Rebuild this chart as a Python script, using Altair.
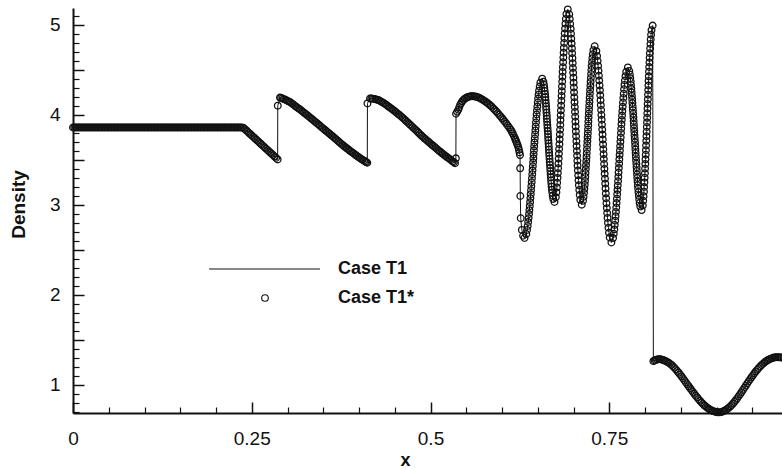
import altair as alt
import pandas as pd

# ---- density profile, (x, density) pairs from left to right ----
left_state = [
    (0.000, 3.857), (0.002, 3.857), (0.004, 3.857), (0.006, 3.857), (0.008, 3.857), (0.010, 3.857),
    (0.012, 3.857), (0.014, 3.857), (0.016, 3.857), (0.018, 3.857), (0.020, 3.857), (0.022, 3.857),
    (0.024, 3.857), (0.026, 3.857), (0.028, 3.857), (0.030, 3.857), (0.032, 3.857), (0.034, 3.857),
    (0.036, 3.857), (0.038, 3.857), (0.040, 3.857), (0.042, 3.857), (0.044, 3.857), (0.046, 3.857),
    (0.048, 3.857), (0.050, 3.857), (0.052, 3.857), (0.054, 3.857), (0.056, 3.857), (0.058, 3.857),
    (0.060, 3.857), (0.062, 3.857), (0.064, 3.857), (0.066, 3.857), (0.068, 3.857), (0.070, 3.857),
    (0.072, 3.857), (0.074, 3.857), (0.076, 3.857), (0.078, 3.857), (0.080, 3.857), (0.082, 3.857),
    (0.084, 3.857), (0.086, 3.857), (0.088, 3.857), (0.090, 3.857), (0.092, 3.857), (0.094, 3.857),
    (0.096, 3.857), (0.098, 3.857), (0.100, 3.857), (0.102, 3.857), (0.104, 3.857), (0.106, 3.857),
    (0.108, 3.857), (0.110, 3.857), (0.112, 3.857), (0.114, 3.857), (0.116, 3.857), (0.118, 3.857),
    (0.120, 3.857), (0.122, 3.857), (0.124, 3.857), (0.126, 3.857), (0.128, 3.857), (0.130, 3.857),
    (0.132, 3.857), (0.134, 3.857), (0.136, 3.857), (0.138, 3.857), (0.140, 3.857), (0.142, 3.857),
    (0.144, 3.857), (0.146, 3.857), (0.148, 3.857), (0.150, 3.857), (0.152, 3.857), (0.154, 3.857),
    (0.156, 3.857), (0.158, 3.857), (0.160, 3.857), (0.162, 3.857), (0.164, 3.857), (0.166, 3.857),
    (0.168, 3.857), (0.170, 3.857), (0.172, 3.857), (0.174, 3.857), (0.176, 3.857), (0.178, 3.857),
    (0.180, 3.857), (0.182, 3.857), (0.184, 3.857), (0.186, 3.857), (0.188, 3.857), (0.190, 3.857),
    (0.192, 3.857), (0.194, 3.857), (0.196, 3.857), (0.198, 3.857), (0.200, 3.857), (0.202, 3.857),
    (0.204, 3.857), (0.206, 3.857), (0.208, 3.857), (0.210, 3.857), (0.212, 3.857), (0.214, 3.857),
    (0.216, 3.857), (0.218, 3.857), (0.220, 3.857), (0.222, 3.857), (0.224, 3.857), (0.226, 3.857),
    (0.228, 3.857), (0.230, 3.857), (0.232, 3.857), (0.234, 3.857), (0.236, 3.857),
    (0.238, 3.856), (0.240, 3.842), (0.242, 3.828), (0.244, 3.813), (0.246, 3.798), (0.248, 3.784),
    (0.250, 3.769), (0.252, 3.754), (0.254, 3.740), (0.256, 3.725), (0.258, 3.710), (0.260, 3.696),
    (0.262, 3.681), (0.264, 3.666), (0.266, 3.652), (0.268, 3.637), (0.270, 3.622), (0.272, 3.608),
    (0.274, 3.593), (0.276, 3.578), (0.278, 3.564), (0.280, 3.549), (0.282, 3.534), (0.284, 3.520),
    (0.2862, 3.503),
]

first_tooth = [
    (0.2864, 4.100), (0.2895, 4.190), (0.291, 4.186), (0.293, 4.180), (0.295, 4.173), (0.297, 4.166),
    (0.299, 4.158), (0.301, 4.150), (0.303, 4.142), (0.305, 4.133), (0.307, 4.120), (0.309, 4.107),
    (0.311, 4.095), (0.313, 4.083), (0.315, 4.072), (0.317, 4.061), (0.319, 4.049), (0.321, 4.036),
    (0.323, 4.023), (0.325, 4.010), (0.327, 3.998), (0.329, 3.985), (0.331, 3.972), (0.333, 3.959),
    (0.335, 3.946), (0.337, 3.933), (0.339, 3.920), (0.341, 3.906), (0.343, 3.893), (0.345, 3.879),
    (0.347, 3.866), (0.349, 3.852), (0.351, 3.839), (0.353, 3.826), (0.355, 3.813), (0.357, 3.800),
    (0.359, 3.787), (0.361, 3.773), (0.363, 3.760), (0.365, 3.746), (0.367, 3.732), (0.369, 3.718),
    (0.371, 3.705), (0.373, 3.691), (0.375, 3.677), (0.377, 3.663), (0.379, 3.651), (0.381, 3.638),
    (0.383, 3.626), (0.385, 3.613), (0.387, 3.601), (0.389, 3.589), (0.391, 3.578), (0.393, 3.566),
    (0.395, 3.554), (0.397, 3.542), (0.399, 3.531), (0.401, 3.520), (0.403, 3.509), (0.405, 3.498),
    (0.407, 3.489), (0.409, 3.479), (0.4103, 3.472), (0.4116, 3.466),
]

second_tooth = [
    (0.4118, 4.125), (0.4154, 4.180), (0.4172, 4.179), (0.419, 4.178), (0.421, 4.175), (0.423, 4.172),
    (0.425, 4.167), (0.427, 4.162), (0.429, 4.154), (0.431, 4.145), (0.433, 4.136), (0.435, 4.127),
    (0.437, 4.116), (0.439, 4.104), (0.441, 4.092), (0.443, 4.080), (0.445, 4.069), (0.447, 4.057),
    (0.449, 4.045), (0.451, 4.032), (0.453, 4.019), (0.455, 4.006), (0.457, 3.993), (0.459, 3.979),
    (0.461, 3.966), (0.463, 3.952), (0.465, 3.937), (0.467, 3.922), (0.469, 3.907), (0.471, 3.892),
    (0.473, 3.877), (0.475, 3.862), (0.477, 3.847), (0.479, 3.832), (0.481, 3.817), (0.483, 3.801),
    (0.485, 3.786), (0.487, 3.770), (0.489, 3.755), (0.491, 3.740), (0.493, 3.727), (0.495, 3.713),
    (0.497, 3.700), (0.499, 3.686), (0.501, 3.673), (0.503, 3.659), (0.505, 3.646), (0.507, 3.632),
    (0.509, 3.619), (0.511, 3.605), (0.513, 3.592), (0.515, 3.579), (0.517, 3.566), (0.519, 3.553),
    (0.521, 3.541), (0.523, 3.529), (0.525, 3.518), (0.527, 3.506), (0.529, 3.494), (0.531, 3.481),
    (0.5327, 3.471), (0.5343, 3.460),
]

third_arc = [
    (0.5355, 3.515), (0.5357, 4.010), (0.5373, 4.033), (0.5389, 4.055), (0.5402, 4.083),
    (0.5415, 4.110), (0.5430, 4.130), (0.5445, 4.150), (0.5462, 4.164), (0.548, 4.178),
    (0.550, 4.187), (0.552, 4.196), (0.554, 4.200), (0.556, 4.204), (0.558, 4.205),
    (0.560, 4.205), (0.562, 4.202), (0.564, 4.199), (0.566, 4.194), (0.568, 4.188),
    (0.570, 4.179), (0.572, 4.170), (0.574, 4.160), (0.576, 4.150), (0.578, 4.139),
    (0.580, 4.127), (0.582, 4.114), (0.584, 4.100), (0.586, 4.085), (0.588, 4.069),
    (0.590, 4.053), (0.592, 4.036), (0.594, 4.018), (0.596, 3.999), (0.598, 3.981),
    (0.600, 3.962), (0.602, 3.942), (0.604, 3.922), (0.606, 3.901), (0.608, 3.880),
    (0.610, 3.858), (0.612, 3.836), (0.6135, 3.814), (0.615, 3.792), (0.6165, 3.766),
    (0.618, 3.740), (0.619, 3.720), (0.620, 3.700), (0.621, 3.680), (0.622, 3.660),
    (0.6229, 3.635), (0.6237, 3.610), (0.6245, 3.581), (0.6252, 3.551),
    (0.6254, 3.404), (0.6256, 3.097), (0.6262, 2.849), (0.6278, 2.720), (0.6295, 2.655),
    (0.6315, 2.630),
]

entropy_waves = [
    # trough 2.63 -> crest 4.40
    (0.6340, 2.674), (0.6350, 2.719), (0.6359, 2.763), (0.6366, 2.807), (0.6372, 2.851),
    (0.6378, 2.896), (0.6383, 2.940), (0.6388, 2.984), (0.6393, 3.028), (0.6397, 3.073),
    (0.6402, 3.117), (0.6406, 3.161), (0.6410, 3.205), (0.6415, 3.250), (0.6419, 3.294),
    (0.6423, 3.338), (0.6427, 3.382), (0.6431, 3.427), (0.6435, 3.471), (0.6439, 3.515),
    (0.6442, 3.559), (0.6446, 3.604), (0.6450, 3.648), (0.6454, 3.692), (0.6458, 3.736),
    (0.6463, 3.781), (0.6467, 3.825), (0.6471, 3.869), (0.6475, 3.913), (0.6480, 3.958),
    (0.6484, 4.002), (0.6489, 4.046), (0.6494, 4.090), (0.6500, 4.135), (0.6505, 4.179),
    (0.6511, 4.223), (0.6518, 4.267), (0.6527, 4.312), (0.6537, 4.356), (0.6562, 4.400),
    # crest 4.40 -> trough 3.03
    (0.6579, 4.366), (0.6587, 4.332), (0.6592, 4.297), (0.6597, 4.263), (0.6602, 4.229),
    (0.6606, 4.195), (0.6609, 4.160), (0.6613, 4.126), (0.6616, 4.092), (0.6619, 4.058),
    (0.6622, 4.023), (0.6626, 3.989), (0.6628, 3.955), (0.6631, 3.921), (0.6634, 3.886),
    (0.6637, 3.852), (0.6640, 3.818), (0.6643, 3.784), (0.6645, 3.749), (0.6648, 3.715),
    (0.6651, 3.681), (0.6654, 3.647), (0.6656, 3.612), (0.6659, 3.578), (0.6662, 3.544),
    (0.6665, 3.510), (0.6668, 3.475), (0.6671, 3.441), (0.6674, 3.407), (0.6677, 3.373),
    (0.6680, 3.338), (0.6683, 3.304), (0.6687, 3.270), (0.6690, 3.236), (0.6694, 3.201),
    (0.6699, 3.167), (0.6704, 3.133), (0.6709, 3.099), (0.6717, 3.064), (0.6734, 3.030),
    # trough 3.03 -> crest 5.17
    (0.6753, 3.084), (0.6761, 3.137), (0.6767, 3.191), (0.6772, 3.244), (0.6777, 3.298),
    (0.6781, 3.351), (0.6785, 3.405), (0.6789, 3.458), (0.6793, 3.512), (0.6796, 3.565),
    (0.6799, 3.619), (0.6803, 3.672), (0.6806, 3.726), (0.6809, 3.779), (0.6812, 3.833),
    (0.6815, 3.886), (0.6818, 3.940), (0.6821, 3.993), (0.6824, 4.047), (0.6827, 4.100),
    (0.6830, 4.154), (0.6833, 4.207), (0.6836, 4.261), (0.6839, 4.314), (0.6842, 4.368),
    (0.6845, 4.421), (0.6848, 4.475), (0.6851, 4.528), (0.6855, 4.582), (0.6858, 4.635),
    (0.6862, 4.689), (0.6865, 4.742), (0.6869, 4.796), (0.6873, 4.849), (0.6877, 4.903),
    (0.6882, 4.956), (0.6887, 5.010), (0.6893, 5.063), (0.6901, 5.117), (0.6920, 5.170),
    # crest 5.17 -> trough 3.00
    (0.6940, 5.116), (0.6948, 5.062), (0.6954, 5.007), (0.6960, 4.953), (0.6965, 4.899),
    (0.6969, 4.845), (0.6974, 4.790), (0.6978, 4.736), (0.6981, 4.682), (0.6985, 4.628),
    (0.6989, 4.573), (0.6992, 4.519), (0.6995, 4.465), (0.6999, 4.411), (0.7002, 4.356),
    (0.7005, 4.302), (0.7008, 4.248), (0.7011, 4.194), (0.7014, 4.139), (0.7018, 4.085),
    (0.7021, 4.031), (0.7024, 3.977), (0.7027, 3.922), (0.7030, 3.868), (0.7033, 3.814),
    (0.7036, 3.760), (0.7040, 3.705), (0.7043, 3.651), (0.7047, 3.597), (0.7050, 3.543),
    (0.7054, 3.488), (0.7057, 3.434), (0.7061, 3.380), (0.7066, 3.326), (0.7070, 3.271),
    (0.7075, 3.217), (0.7081, 3.163), (0.7087, 3.109), (0.7095, 3.054), (0.7115, 3.000),
    # trough 3.00 -> crest 4.76
    (0.7133, 3.044), (0.7141, 3.088), (0.7147, 3.132), (0.7152, 3.176), (0.7157, 3.220),
    (0.7161, 3.264), (0.7165, 3.308), (0.7168, 3.352), (0.7172, 3.396), (0.7175, 3.440),
    (0.7179, 3.484), (0.7182, 3.528), (0.7185, 3.572), (0.7188, 3.616), (0.7191, 3.660),
    (0.7194, 3.704), (0.7197, 3.748), (0.7200, 3.792), (0.7203, 3.836), (0.7206, 3.880),
    (0.7208, 3.924), (0.7211, 3.968), (0.7214, 4.012), (0.7217, 4.056), (0.7220, 4.100),
    (0.7223, 4.144), (0.7226, 4.188), (0.7229, 4.232), (0.7232, 4.276), (0.7236, 4.320),
    (0.7239, 4.364), (0.7243, 4.408), (0.7246, 4.452), (0.7250, 4.496), (0.7254, 4.540),
    (0.7259, 4.584), (0.7264, 4.628), (0.7270, 4.672), (0.7278, 4.716), (0.7296, 4.760),
    # crest 4.76 -> trough 2.58
    (0.7320, 4.706), (0.7330, 4.651), (0.7337, 4.597), (0.7344, 4.542), (0.7350, 4.488),
    (0.7355, 4.433), (0.7360, 4.379), (0.7365, 4.324), (0.7370, 4.270), (0.7374, 4.215),
    (0.7378, 4.161), (0.7382, 4.106), (0.7386, 4.052), (0.7390, 3.997), (0.7394, 3.943),
    (0.7398, 3.888), (0.7402, 3.834), (0.7406, 3.779), (0.7409, 3.725), (0.7413, 3.670),
    (0.7417, 3.616), (0.7421, 3.561), (0.7424, 3.507), (0.7428, 3.452), (0.7432, 3.398),
    (0.7436, 3.343), (0.7440, 3.289), (0.7444, 3.234), (0.7448, 3.180), (0.7452, 3.125),
    (0.7456, 3.071), (0.7461, 3.016), (0.7466, 2.962), (0.7471, 2.907), (0.7476, 2.853),
    (0.7482, 2.798), (0.7489, 2.744), (0.7496, 2.689), (0.7506, 2.635), (0.7530, 2.580),
    # trough 2.58 -> crest 4.525
    (0.7553, 2.629), (0.7563, 2.677), (0.7571, 2.726), (0.7577, 2.775), (0.7583, 2.823),
    (0.7588, 2.872), (0.7593, 2.920), (0.7598, 2.969), (0.7602, 3.018), (0.7607, 3.066),
    (0.7611, 3.115), (0.7615, 3.164), (0.7619, 3.212), (0.7623, 3.261), (0.7627, 3.309),
    (0.7630, 3.358), (0.7634, 3.407), (0.7638, 3.455), (0.7641, 3.504), (0.7645, 3.553),
    (0.7649, 3.601), (0.7652, 3.650), (0.7656, 3.698), (0.7660, 3.747), (0.7664, 3.796),
    (0.7667, 3.844), (0.7671, 3.893), (0.7675, 3.942), (0.7679, 3.990), (0.7683, 4.039),
    (0.7688, 4.087), (0.7692, 4.136), (0.7697, 4.185), (0.7702, 4.233), (0.7707, 4.282),
    (0.7713, 4.331), (0.7719, 4.379), (0.7727, 4.428), (0.7737, 4.476), (0.7760, 4.525),
    # crest 4.525 -> trough 2.94
    (0.7780, 4.485), (0.7788, 4.446), (0.7794, 4.406), (0.7800, 4.367), (0.7804, 4.327),
    (0.7809, 4.287), (0.7813, 4.248), (0.7817, 4.208), (0.7821, 4.168), (0.7824, 4.129),
    (0.7828, 4.089), (0.7831, 4.050), (0.7835, 4.010), (0.7838, 3.970), (0.7841, 3.931),
    (0.7844, 3.891), (0.7847, 3.851), (0.7850, 3.812), (0.7853, 3.772), (0.7857, 3.733),
    (0.7860, 3.693), (0.7863, 3.653), (0.7866, 3.614), (0.7869, 3.574), (0.7872, 3.534),
    (0.7875, 3.495), (0.7879, 3.455), (0.7882, 3.416), (0.7885, 3.376), (0.7889, 3.336),
    (0.7892, 3.297), (0.7896, 3.257), (0.7900, 3.217), (0.7904, 3.178), (0.7909, 3.138),
    (0.7914, 3.099), (0.7919, 3.059), (0.7925, 3.019), (0.7934, 2.980), (0.7953, 2.940),
    # trough 2.94 -> post-shock crest 4.99
    (0.7969, 2.991), (0.7975, 3.043), (0.7980, 3.094), (0.7985, 3.145), (0.7988, 3.196),
    (0.7992, 3.248), (0.7995, 3.299), (0.7999, 3.350), (0.8001, 3.401), (0.8004, 3.453),
    (0.8007, 3.504), (0.8010, 3.555), (0.8013, 3.606), (0.8015, 3.658), (0.8018, 3.709),
    (0.8020, 3.760), (0.8023, 3.811), (0.8025, 3.863), (0.8028, 3.914), (0.8030, 3.965),
    (0.8032, 4.016), (0.8035, 4.068), (0.8037, 4.119), (0.8040, 4.170), (0.8042, 4.221),
    (0.8045, 4.273), (0.8048, 4.324), (0.8050, 4.375), (0.8053, 4.426), (0.8056, 4.478),
    (0.8059, 4.529), (0.8062, 4.580), (0.8065, 4.631), (0.8068, 4.683), (0.8072, 4.734),
    (0.8076, 4.785), (0.8080, 4.836), (0.8085, 4.888), (0.8091, 4.939), (0.8107, 4.990),
]

right_state = [
    (0.8117, 1.262), (0.8133, 1.269), (0.815, 1.276), (0.817, 1.281), (0.819, 1.284), (0.821, 1.283),
    (0.823, 1.281), (0.825, 1.276), (0.827, 1.270), (0.829, 1.262), (0.831, 1.254), (0.833, 1.244),
    (0.835, 1.233), (0.837, 1.220), (0.839, 1.205), (0.841, 1.189), (0.843, 1.172), (0.845, 1.153),
    (0.847, 1.134), (0.849, 1.114), (0.851, 1.093), (0.853, 1.072), (0.855, 1.050), (0.857, 1.028),
    (0.859, 1.006), (0.861, 0.984), (0.863, 0.962), (0.865, 0.941), (0.867, 0.919), (0.869, 0.899),
    (0.871, 0.878), (0.873, 0.859), (0.875, 0.839), (0.877, 0.821), (0.879, 0.803), (0.881, 0.787),
    (0.883, 0.771), (0.885, 0.758), (0.887, 0.745), (0.889, 0.734), (0.891, 0.723), (0.893, 0.715),
    (0.895, 0.707), (0.897, 0.702), (0.899, 0.697), (0.901, 0.694), (0.903, 0.693), (0.905, 0.694),
    (0.907, 0.697), (0.909, 0.703), (0.911, 0.710), (0.913, 0.720), (0.915, 0.730), (0.917, 0.743),
    (0.919, 0.757), (0.921, 0.773), (0.923, 0.790), (0.925, 0.809), (0.927, 0.829), (0.929, 0.850),
    (0.931, 0.872), (0.933, 0.895), (0.935, 0.918), (0.937, 0.942), (0.939, 0.966), (0.941, 0.990),
    (0.943, 1.014), (0.945, 1.038), (0.947, 1.061), (0.949, 1.084), (0.951, 1.106), (0.953, 1.127),
    (0.955, 1.148), (0.957, 1.167), (0.959, 1.186), (0.961, 1.203), (0.963, 1.219), (0.965, 1.233),
    (0.967, 1.247), (0.969, 1.259), (0.971, 1.270), (0.973, 1.279), (0.975, 1.287), (0.977, 1.293),
    (0.979, 1.299), (0.981, 1.302), (0.983, 1.305), (0.985, 1.306), (0.987, 1.306), (0.989, 1.304),
    (0.991, 1.302), (0.994, 1.298),
]

series_names = ["Case T1", "Case T1*"]

# axis ticks and labels
x_major = [0, 0.25, 0.5, 0.75]
x_minor = [0.05, 0.1, 0.15, 0.2, 0.3, 0.35, 0.4, 0.45, 0.55, 0.6, 0.65, 0.7,
           0.8, 0.85, 0.9, 0.95]
y_major = [1, 1.5, 2, 2.5, 3, 3.5, 4, 4.5, 5]
y_minor = [0.7, 0.8, 0.9, 1.1, 1.2, 1.3, 1.4, 1.6, 1.7, 1.8, 1.9, 2.1, 2.2, 2.3,
           2.4, 2.6, 2.7, 2.8, 2.9, 3.1, 3.2, 3.3, 3.4, 3.6, 3.7, 3.8, 3.9, 4.1,
           4.2, 4.3, 4.4, 4.6, 4.7, 4.8, 4.9, 5.1]

rows = left_state + first_tooth + second_tooth + third_arc + entropy_waves + right_state
df = pd.DataFrame(rows, columns=["x", "density"])
df["idx"] = range(len(df))

FONT = "Liberation Sans"
INK = "#111111"
W, H = 709, 405
CIRCLE = 44

xs = alt.Scale(domain=[0, 0.9916], nice=False, zero=False)
ys = alt.Scale(domain=[0.686, 5.185], nice=False, zero=False)

x_axis_main = alt.Axis(
    orient="bottom", values=x_major, tickSize={"expr": "-11"}, tickWidth=1.5,
    tickColor=INK, domain=True, domainColor=INK, domainWidth=2, grid=False,
    labelExpr="'' + datum.value", labelFont=FONT, labelFontSize=19,
    labelColor=INK, labelPadding=27, labelFlush=False, title="x",
    titleFont=FONT, titleFontSize=18, titleFontWeight="bold", titleColor=INK,
    titleX=332, titleY=47, titleBaseline="middle", titleAlign="center",
)
x_axis_minor = alt.Axis(
    orient="bottom", values=x_minor, tickSize={"expr": "-6"}, tickWidth=1.2,
    tickColor=INK, domain=False, grid=False, labels=False, title=None,
)
y_axis_main = alt.Axis(
    orient="left", values=y_major, tickSize={"expr": "-11"}, tickWidth=1.5,
    tickColor=INK, domain=True, domainColor=INK, domainWidth=2, grid=False,
    labelExpr="datum.value % 1 === 0 ? '' + datum.value : ''", labelFont=FONT,
    labelFontSize=19, labelColor=INK, labelPadding=24, labelFlush=False,
    title="Density", titleFont=FONT, titleFontSize=19, titleFontWeight="bold",
    titleColor=INK, titleX=-55, titleY=196, titleAlign="center",
    titleBaseline="middle", titleAngle=270,
)
y_axis_minor = alt.Axis(
    orient="left", values=y_minor, tickSize={"expr": "-6"}, tickWidth=1.2,
    tickColor=INK, domain=False, grid=False, labels=False, title=None,
)

base = alt.Chart(df)

line = base.mark_line(color=INK, strokeWidth=1).encode(
    x=alt.X("x:Q", scale=xs, axis=x_axis_main),
    y=alt.Y("density:Q", scale=ys, axis=y_axis_main),
    order="idx:Q",
)

circles = base.mark_point(
    shape="circle", filled=False, size=CIRCLE, strokeWidth=1.3, color=INK, opacity=1
).encode(
    x=alt.X("x:Q", scale=xs, axis=x_axis_minor),
    y=alt.Y("density:Q", scale=ys, axis=y_axis_minor),
)

# in-plot legend
leg_line = alt.Chart(pd.DataFrame({"s": [series_names[0]]})).mark_rule(
    color=INK, strokeWidth=1
).encode(x=alt.value(136), x2=alt.value(247), y=alt.value(261))
leg_circle = alt.Chart(pd.DataFrame({"s": [series_names[1]]})).mark_point(
    shape="circle", filled=False, size=CIRCLE, strokeWidth=1.1, color=INK, opacity=1
).encode(x=alt.value(192), y=alt.value(290))
leg_text1 = alt.Chart(pd.DataFrame({"s": [series_names[0]]})).mark_text(
    font=FONT, fontSize=18, fontWeight="bold", color=INK, align="left",
    baseline="middle",
).encode(x=alt.value(265), y=alt.value(261), text="s:N")
leg_text2 = alt.Chart(pd.DataFrame({"s": [series_names[1]]})).mark_text(
    font=FONT, fontSize=18, fontWeight="bold", color=INK, align="left",
    baseline="middle",
).encode(x=alt.value(265), y=alt.value(290), text="s:N")

chart = (
    alt.layer(line, circles, leg_line, leg_circle, leg_text1, leg_text2)
    .resolve_axis(x="independent", y="independent")
    .properties(
        width=W, height=H,
        padding={"left": 73, "top": 8, "right": 0, "bottom": 56},
        autosize=alt.AutoSizeParams(type="none"),
        background="white",
    )
    .configure_view(stroke=None)
)

chart.save("out.html", embed_options={"renderer": "svg", "actions": False})
